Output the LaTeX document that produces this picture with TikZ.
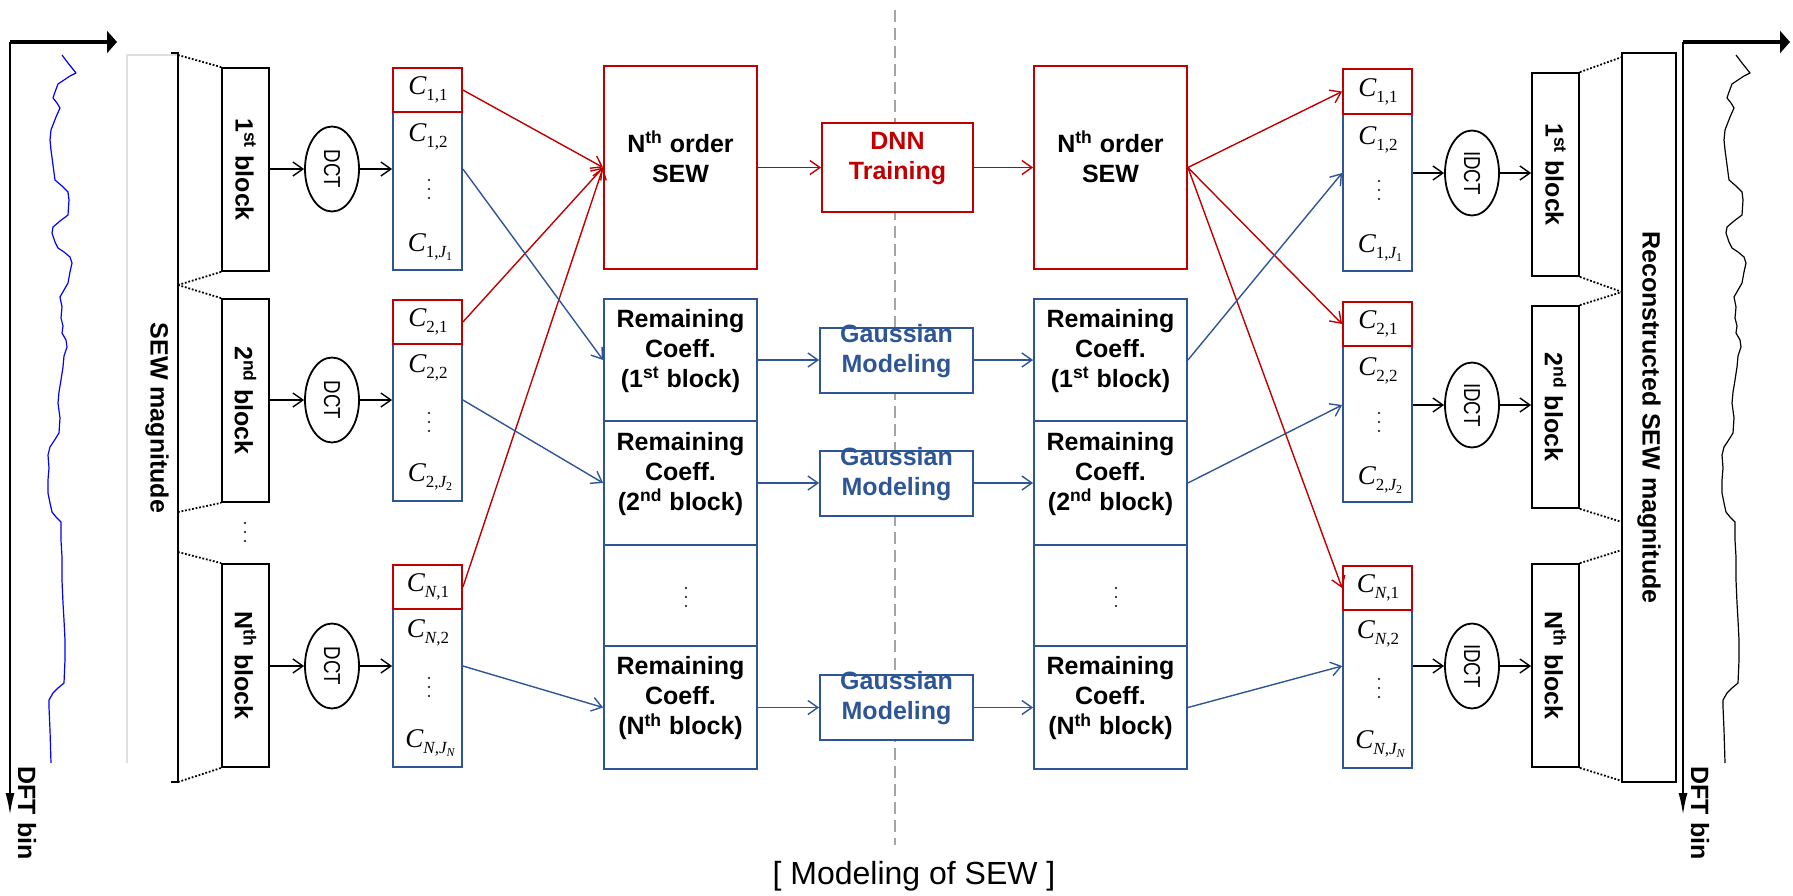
\documentclass[tikz,border=0pt]{standalone}
\usepackage{graphicx}
\usepackage{fontspec}
\setmainfont{Liberation Sans}
\newfontfamily\serf{Liberation Serif}
\usetikzlibrary{arrows.meta,calc,shapes.geometric,fit}
\definecolor{myred}{RGB}{192,0,0}
\definecolor{myblue}{RGB}{46,86,150}
\definecolor{dgray}{RGB}{165,165,165}
\newcommand{\bfs}{\bfseries\fontsize{12.5}{15}\selectfont}
\newcommand{\Cc}[2]{{\serf\fontsize{13.5}{15}\selectfont\itshape C}\raisebox{-2.8pt}{\serf\fontsize{8.5}{9}\selectfont #1,#2}}
\newcommand{\Jsub}[1]{{\itshape J}\raisebox{-1.4pt}{\fontsize{6}{7}\selectfont #1}}
\newcommand{\vdd}[2]{\fill (#1,#2-9) circle[radius=0.6pt] (#1,#2) circle[radius=0.6pt] (#1,#2+9) circle[radius=0.6pt];}
\newcommand{\sewcurve}[1]{\draw[#1, line width=0.6pt, line join=round] (62,55) -- (68,63) -- (72,68) -- (76,73) -- (70,76) -- (64,80) -- (58,84) -- (55,92) -- (53,98) -- (57,103) -- (60,108) -- (56,117) -- (51,130) -- (50,140) -- (51,150) -- (53,165) -- (55,180) -- (62,186) -- (68,192) -- (69,200) -- (68,215) -- (60,221) -- (53,227) -- (52,233) -- (55,242) -- (58,248) -- (64,252) -- (70,257) -- (72,263) -- (70,272) -- (68,283) -- (64,290) -- (60,297) -- (62,307) -- (61,318) -- (63,326) -- (62,333) -- (66,340) -- (67,347) -- (64,356) -- (63,367) -- (61,380) -- (59,392) -- (58,403) -- (60,418) -- (59,433) -- (54,441) -- (50,447) -- (48,455) -- (49,468) -- (48,480) -- (48,493) -- (50,503) -- (52,512) -- (56,517) -- (61,522) -- (61,540) -- (62,557) -- (62,580) -- (63,603) -- (64,620) -- (65,640) -- (65,660) -- (64,683) -- (58,688) -- (53,693) -- (49,700) -- (49,707) -- (50,730) -- (51,763);}
\begin{document}
\begin{tikzpicture}[x=0.5pt,y=-0.5pt,
  bx/.style={draw=black, line width=0.9pt, inner sep=0pt, fill=white, font=\bfs},
  rbx/.style={draw=myred, line width=0.9pt, inner sep=0pt, fill=white, align=center, font=\bfs},
  bbx/.style={draw=myblue, line width=0.9pt, inner sep=0pt, fill=white, align=center, font=\bfs},
  ell/.style={draw, ellipse, line width=0.9pt, fill=white, minimum width=27pt, minimum height=42.5pt, inner sep=0pt},
  arr/.style={line width=0.7pt, -{Straight Barb[length=5pt,width=7pt]}},
  rarr/.style={arr, draw=myred},
  barr/.style={arr, draw=myblue},
  dotl/.style={line width=0.9pt, dash pattern=on 0.9pt off 0.9pt},
  clab/.style={inner sep=0pt},
  rtxt/.style={rotate=-90, inner sep=0pt, font=\bfs},
]
\useasboundingbox (0,0) rectangle (1793,895);

% centre divider
\coordinate (dtop) at (895,10);
\coordinate (dbot) at (895,845);
\draw[dgray, line width=0.8pt, dash pattern=on 6pt off 3pt] (dtop) -- (dbot);
\node[font=\fontsize{16}{18}\selectfont, inner sep=0pt] (title) at (914,876) {[ Modeling of SEW ]};

% ---------------- left side ----------------
\coordinate (axL) at (10,42);
\coordinate (axLb) at (10,815);
\coordinate (axLr) at (117,42);
\draw[line width=1pt, -{Latex[length=11pt,width=4.5pt]}] (axL) -- (axLb);
\draw[line width=2.2pt, -{Triangle[length=5pt,width=11pt]}] (axL) -- (axLr);
\node[rtxt] (dftL) at (27,813) {DFT bin};
\sewcurve{blue}

\draw[gray!25, line width=0.6pt] (178,55) -- (127,55) -- (127,763);
\draw[line width=1pt] (171,53) -- (178,53) -- (178,782) -- (171,782);
\node[rtxt] (sewmag) at (157,418) {SEW magnitude};

\node[bx, fit={(222,68) (269,271)}] (b1) {\rotatebox{-90}{1\textsuperscript{st} block}};
\node[bx, fit={(222,299) (269,502)}] (b2) {\rotatebox{-90}{2\textsuperscript{nd} block}};
\node[bx, fit={(222,564) (269,767)}] (bN) {\rotatebox{-90}{N\textsuperscript{th} block}};
\vdd{245}{532}

\draw[dotl] (178,55) -- (b1.north west);
\draw[dotl] (178,285) -- (b1.south west);
\draw[dotl] (178,285) -- (b2.north west);
\draw[dotl] (178,512) -- (b2.south west);
\draw[dotl] (178,552) -- (bN.north west);
\draw[dotl] (178,782) -- (bN.south west);

\node[ell] (dct1) at (332,169) {\rotatebox{-90}{\scalebox{0.85}[1.05]{\fontsize{11}{13}\selectfont DCT}}};
\node[ell] (dct2) at (332,400) {\rotatebox{-90}{\scalebox{0.85}[1.05]{\fontsize{11}{13}\selectfont DCT}}};
\node[ell] (dctN) at (332,666) {\rotatebox{-90}{\scalebox{0.85}[1.05]{\fontsize{11}{13}\selectfont DCT}}};

% coefficient columns (left)
\node[bbx, fit={(393,112) (462,270)}] (c1b) {};
\node[rbx, fit={(393,68) (462,112)}] (c1r) {};
\node[bbx, fit={(393,344) (462,501)}] (c2b) {};
\node[rbx, fit={(393,300) (462,344)}] (c2r) {};
\node[bbx, fit={(393,609) (462,767)}] (cNb) {};
\node[rbx, fit={(393,565) (462,609)}] (cNr) {};

\node[clab] (l11) at (428,90) {\Cc{1}{1}};
\node[clab] (l12) at (428,137) {\Cc{1}{2}};
\vdd{429}{189}
\node[clab] (l1J) at (430,247) {\Cc{1}{\Jsub{1}}};
\node[clab] (l21) at (428,322) {\Cc{2}{1}};
\node[clab] (l22) at (428,368) {\Cc{2}{2}};
\vdd{429}{422}
\node[clab] (l2J) at (430,477) {\Cc{2}{\Jsub{2}}};
\node[clab] (lN1) at (428,587) {\Cc{{\itshape N}}{1}};
\node[clab] (lN2) at (428,633) {\Cc{{\itshape N}}{2}};
\vdd{429}{687}
\node[clab] (lNJ) at (430,743) {\Cc{{\itshape N}}{\Jsub{{\itshape N}}}};

% middle left
\node[rbx, fit={(604,66) (757,269)}] (sewL) {N\textsuperscript{th} order\\SEW};
\node[bbx, fit={(604,299) (757,421)}] (r1) {Remaining\\Coeff.\\(1\textsuperscript{st} block)};
\node[bbx, fit={(604,421) (757,545)}] (r2) {Remaining\\Coeff.\\(2\textsuperscript{nd} block)};
\node[bbx, fit={(604,545) (757,646)}] (rd) {};
\node[bbx, fit={(604,646) (757,769)}] (rN) {Remaining\\Coeff.\\(N\textsuperscript{th} block)};
\vdd{686}{597}

% centre
\node[rbx, fit={(822,123) (973,212)}, text=myred] (dnn) {DNN\\Training};
\node[bbx, fit={(820,328) (973,393)}, text=myblue] (g1) {Gaussian\\Modeling};
\node[bbx, fit={(820,451) (973,516)}, text=myblue] (g2) {Gaussian\\Modeling};
\node[bbx, fit={(820,675) (973,740)}, text=myblue] (gN) {Gaussian\\Modeling};

% middle right
\node[rbx, fit={(1034,66) (1187,269)}] (sewR) {N\textsuperscript{th} order\\SEW};
\node[bbx, fit={(1034,299) (1187,421)}] (r1R) {Remaining\\Coeff.\\(1\textsuperscript{st} block)};
\node[bbx, fit={(1034,421) (1187,545)}] (r2R) {Remaining\\Coeff.\\(2\textsuperscript{nd} block)};
\node[bbx, fit={(1034,545) (1187,646)}] (rdR) {};
\node[bbx, fit={(1034,646) (1187,769)}] (rNR) {Remaining\\Coeff.\\(N\textsuperscript{th} block)};
\vdd{1116}{597}

% coefficient columns (right)
\node[bbx, fit={(1343,114) (1412,271)}] (c1bR) {};
\node[rbx, fit={(1343,69) (1412,114)}] (c1rR) {};
\node[bbx, fit={(1343,346) (1412,502)}] (c2bR) {};
\node[rbx, fit={(1343,302) (1412,346)}] (c2rR) {};
\node[bbx, fit={(1343,610) (1412,768)}] (cNbR) {};
\node[rbx, fit={(1343,566) (1412,610)}] (cNrR) {};

\node[clab] (m11) at (1378,92) {\Cc{1}{1}};
\node[clab] (m12) at (1378,140) {\Cc{1}{2}};
\vdd{1379}{190}
\node[clab] (m1J) at (1380,248) {\Cc{1}{\Jsub{1}}};
\node[clab] (m21) at (1378,324) {\Cc{2}{1}};
\node[clab] (m22) at (1378,371) {\Cc{2}{2}};
\vdd{1379}{422}
\node[clab] (m2J) at (1380,480) {\Cc{2}{\Jsub{2}}};
\node[clab] (mN1) at (1378,588) {\Cc{{\itshape N}}{1}};
\node[clab] (mN2) at (1378,634) {\Cc{{\itshape N}}{2}};
\vdd{1379}{688}
\node[clab] (mNJ) at (1380,744) {\Cc{{\itshape N}}{\Jsub{{\itshape N}}}};

\node[ell] (idct1) at (1472,173) {\rotatebox{-90}{\scalebox{0.85}[1.05]{\fontsize{11}{13}\selectfont IDCT}}};
\node[ell] (idct2) at (1472,405) {\rotatebox{-90}{\scalebox{0.85}[1.05]{\fontsize{11}{13}\selectfont IDCT}}};
\node[ell] (idctN) at (1472,666) {\rotatebox{-90}{\scalebox{0.85}[1.05]{\fontsize{11}{13}\selectfont IDCT}}};

\node[bx, fit={(1532,73) (1579,276)}] (b1R) {\rotatebox{-90}{1\textsuperscript{st} block}};
\node[bx, fit={(1532,306) (1579,508)}] (b2R) {\rotatebox{-90}{2\textsuperscript{nd} block}};
\node[bx, fit={(1532,564) (1579,767)}] (bNR) {\rotatebox{-90}{N\textsuperscript{th} block}};

\node[bx, fit={(1622,53) (1676,782)}] (recon) {\rotatebox{-90}{Reconstructed SEW magnitude}};

\draw[dotl] (b1R.north east) -- (1622,57);
\draw[dotl] (b1R.south east) -- (1622,292);
\draw[dotl] (b2R.north east) -- (1622,292);
\draw[dotl] (b2R.south east) -- (1622,522);
\draw[dotl] (bNR.north east) -- (1622,550);
\draw[dotl] (bNR.south east) -- (1622,781);

% right axis
\coordinate (axR) at (1683,42);
\coordinate (axRb) at (1683,815);
\coordinate (axRr) at (1790,42);
\draw[line width=1pt, -{Latex[length=11pt,width=4.5pt]}] (axR) -- (axRb);
\draw[line width=2.2pt, -{Triangle[length=5pt,width=11pt]}] (axR) -- (axRr);
\node[rtxt] (dftR) at (1700,813) {DFT bin};
\sewcurve{black, shift={(1674,0)}}

% ---------------- connectors ----------------
\draw[arr] (b1.east |- dct1.west) -- (dct1.west);
\draw[arr] (b2.east |- dct2.west) -- (dct2.west);
\draw[arr] (bN.east |- dctN.west) -- (dctN.west);
\draw[arr] (dct1.east) -- (dct1.east -| c1b.west);
\draw[arr] (dct2.east) -- (dct2.east -| c2b.west);
\draw[arr] (dctN.east) -- (dctN.east -| cNb.west);

\draw[rarr] (c1r.east) -- (sewL.west);
\draw[rarr] (c2r.east) -- (sewL.west);
\draw[rarr] (cNr.east) -- (sewL.west);
\draw[barr] (dct1.east -| c1b.east) -- (r1.west);
\draw[barr] (dct2.east -| c2b.east) -- (r2.west);
\draw[barr] (dctN.east -| cNb.east) -- (rN.west);

\draw[rarr] (sewL.east) -- (dnn.west);
\draw[rarr] (dnn.east) -- (sewR.west);
\draw[barr] (r1.east) -- (r1.east -| g1.west);
\draw[barr] (r2.east) -- (r2.east -| g2.west);
\draw[barr] (rN.east) -- (rN.east -| gN.west);
\draw[barr] (g1.east |- r1R.west) -- (r1R.west);
\draw[barr] (g2.east |- r2R.west) -- (r2R.west);
\draw[barr] (gN.east |- rNR.west) -- (rNR.west);

\draw[rarr] (sewR.east) -- (c1rR.west);
\draw[rarr] (sewR.east) -- (c2rR.west);
\draw[rarr] (sewR.east) -- (cNrR.west);
\draw[barr] (r1R.east) -- (idct1.west -| c1bR.west);
\draw[barr] (r2R.east) -- (idct2.west -| c2bR.west);
\draw[barr] (rNR.east) -- (idctN.west -| cNbR.west);

\draw[arr] (idct1.west -| c1bR.east) -- (idct1.west);
\draw[arr] (idct2.west -| c2bR.east) -- (idct2.west);
\draw[arr] (idctN.west -| cNbR.east) -- (idctN.west);
\draw[arr] (idct1.east) -- (idct1.east -| b1R.west);
\draw[arr] (idct2.east) -- (idct2.east -| b2R.west);
\draw[arr] (idctN.east) -- (idctN.east -| bNR.west);
\end{tikzpicture}
\end{document}
